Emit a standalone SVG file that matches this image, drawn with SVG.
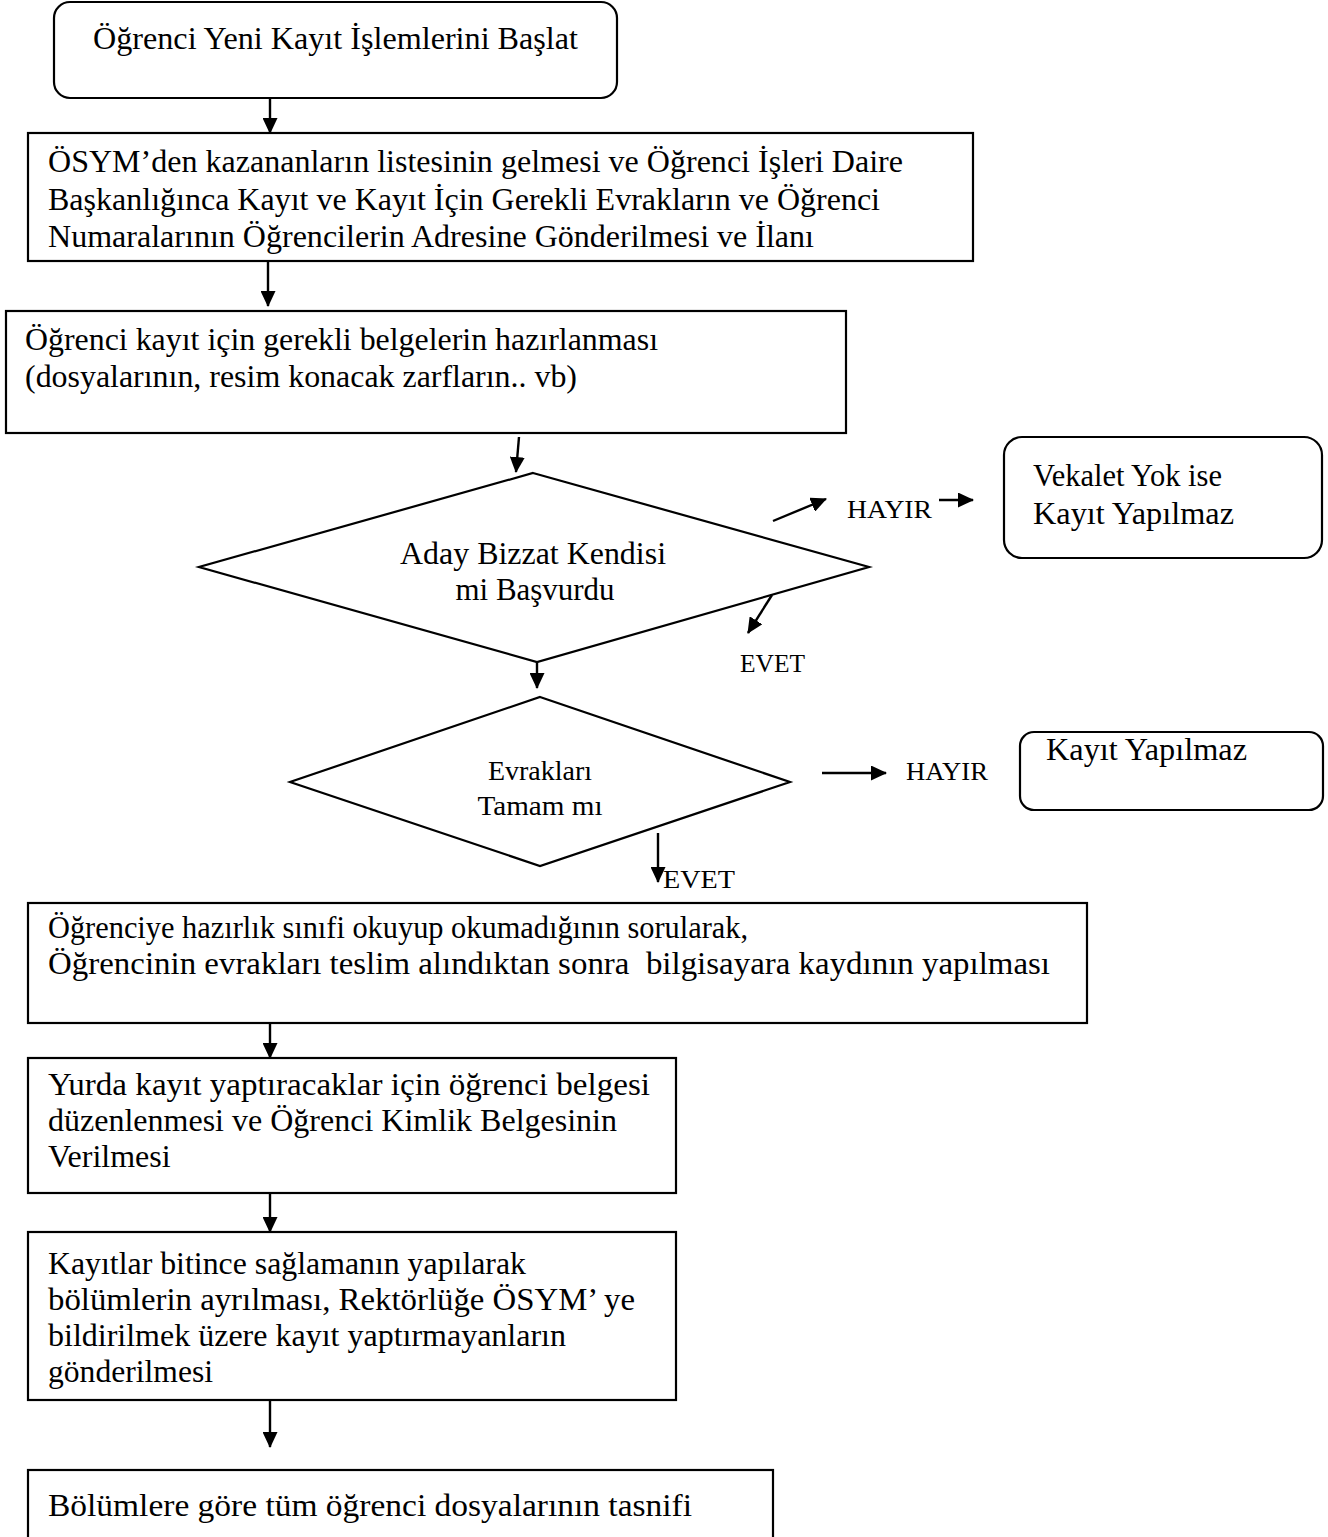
<svg xmlns="http://www.w3.org/2000/svg" width="1328" height="1537" viewBox="0 0 1328 1537">
  <style>
    .box { fill: #fff; stroke: #000; stroke-width: 2.2; }
    .t { font-family: "Liberation Serif", "Times New Roman", serif; font-size: 32px; fill: #000; }
    .lbl { font-family: "Liberation Serif", "Times New Roman", serif; font-size: 26px; fill: #000; }
    .d2 { font-family: "Liberation Serif", "Times New Roman", serif; font-size: 28px; fill: #000; }
    .c { text-anchor: middle; }
    .conn line { stroke: #000; stroke-width: 2.4; }
  </style>
  <defs>
    <marker id="ah" markerUnits="userSpaceOnUse" markerWidth="17" markerHeight="15" refX="15" refY="7.5" orient="auto">
      <path d="M0,0 L16,7.5 L0,15 Z" fill="#000"/>
    </marker>
  </defs>
  <rect width="1328" height="1537" fill="#fff"/>

  <g id="start">
    <rect class="box" x="54" y="2" width="563" height="96" rx="16"/>
    <text class="t" x="93" y="49" textLength="485" lengthAdjust="spacingAndGlyphs">Öğrenci Yeni Kayıt İşlemlerini Başlat</text>
  </g>

  <g id="list-announce">
    <rect class="box" x="28" y="133" width="945" height="128"/>
    <text class="t" x="48" y="172" textLength="855" lengthAdjust="spacingAndGlyphs">ÖSYM’den kazananların listesinin gelmesi ve Öğrenci İşleri Daire</text>
    <text class="t" x="48" y="210" textLength="832" lengthAdjust="spacingAndGlyphs">Başkanlığınca Kayıt ve Kayıt İçin Gerekli Evrakların ve Öğrenci</text>
    <text class="t" x="48" y="247" textLength="766" lengthAdjust="spacingAndGlyphs">Numaralarının Öğrencilerin Adresine Gönderilmesi ve İlanı</text>
  </g>

  <g id="prepare-docs">
    <rect class="box" x="6" y="311" width="840" height="122"/>
    <text class="t" x="25" y="350" textLength="633" lengthAdjust="spacingAndGlyphs">Öğrenci kayıt için gerekli belgelerin hazırlanması</text>
    <text class="t" x="25" y="387" textLength="552" lengthAdjust="spacingAndGlyphs">(dosyalarının, resim konacak zarfların.. vb)</text>
  </g>

  <g id="decision-self">
    <polygon class="box" points="533,473 869,567 537,662 199,567"/>
    <text class="t c" x="533" y="564" textLength="266" lengthAdjust="spacingAndGlyphs">Aday Bizzat Kendisi</text>
    <text class="t c" x="535" y="600" textLength="159" lengthAdjust="spacingAndGlyphs">mi Başvurdu</text>
  </g>

  <g id="no-proxy">
    <rect class="box" x="1004" y="437" width="318" height="121" rx="18"/>
    <text class="t" x="1033" y="486" textLength="189" lengthAdjust="spacingAndGlyphs">Vekalet Yok ise</text>
    <text class="t" x="1033" y="524" textLength="201" lengthAdjust="spacingAndGlyphs">Kayıt Yapılmaz</text>
  </g>

  <g id="decision-docs">
    <polygon class="box" points="540,697 790,782 540,866 290,782"/>
    <text class="d2 c" x="540" y="780" textLength="104" lengthAdjust="spacingAndGlyphs">Evrakları</text>
    <text class="d2 c" x="540" y="815" textLength="125" lengthAdjust="spacingAndGlyphs">Tamam mı</text>
  </g>

  <g id="rejected">
    <rect class="box" x="1020" y="732" width="303" height="78" rx="14"/>
    <text class="t" x="1046" y="760" textLength="201" lengthAdjust="spacingAndGlyphs">Kayıt Yapılmaz</text>
  </g>

  <g id="register-pc">
    <rect class="box" x="28" y="903" width="1059" height="120"/>
    <text class="t" x="48" y="938" textLength="700" lengthAdjust="spacingAndGlyphs">Öğrenciye hazırlık sınıfi okuyup okumadığının sorularak,</text>
    <text class="t" x="48" y="974" textLength="1002" lengthAdjust="spacingAndGlyphs" xml:space="preserve">Öğrencinin evrakları teslim alındıktan sonra  bilgisayara kaydının yapılması</text>
  </g>

  <g id="student-id">
    <rect class="box" x="28" y="1058" width="648" height="135"/>
    <text class="t" x="48" y="1095" textLength="602" lengthAdjust="spacingAndGlyphs">Yurda kayıt yaptıracaklar için öğrenci belgesi</text>
    <text class="t" x="48" y="1131" textLength="569" lengthAdjust="spacingAndGlyphs">düzenlenmesi ve Öğrenci Kimlik Belgesinin</text>
    <text class="t" x="48" y="1167">Verilmesi</text>
  </g>

  <g id="report">
    <rect class="box" x="28" y="1232" width="648" height="168"/>
    <text class="t" x="48" y="1274" textLength="478" lengthAdjust="spacingAndGlyphs">Kayıtlar bitince sağlamanın yapılarak</text>
    <text class="t" x="48" y="1310" textLength="587" lengthAdjust="spacingAndGlyphs">bölümlerin ayrılması, Rektörlüğe ÖSYM’ ye</text>
    <text class="t" x="48" y="1346" textLength="518" lengthAdjust="spacingAndGlyphs">bildirilmek üzere kayıt yaptırmayanların</text>
    <text class="t" x="48" y="1382" textLength="165" lengthAdjust="spacingAndGlyphs">gönderilmesi</text>
  </g>

  <g id="classify">
    <rect class="box" x="28" y="1470" width="745" height="80"/>
    <text class="t" x="48" y="1516" textLength="644" lengthAdjust="spacingAndGlyphs">Bölümlere göre tüm öğrenci dosyalarının tasnifi</text>
  </g>

  <g id="labels">
    <text class="lbl" x="847" y="518" textLength="85" lengthAdjust="spacingAndGlyphs">HAYIR</text>
    <text class="lbl" x="740" y="672" textLength="65" lengthAdjust="spacingAndGlyphs">EVET</text>
    <text class="lbl" x="906" y="780" textLength="82" lengthAdjust="spacingAndGlyphs">HAYIR</text>
    <text class="lbl" x="663" y="888" textLength="72" lengthAdjust="spacingAndGlyphs">EVET</text>
  </g>

  <g class="conn" id="connectors">
    <line x1="270" y1="98" x2="270" y2="133" marker-end="url(#ah)"/>
    <line x1="268" y1="261" x2="268" y2="306" marker-end="url(#ah)"/>
    <line x1="519" y1="437" x2="516" y2="472" marker-end="url(#ah)"/>
    <line x1="537" y1="662" x2="537" y2="688" marker-end="url(#ah)"/>
    <line x1="773" y1="521" x2="826" y2="499" marker-end="url(#ah)"/>
    <line x1="939" y1="500" x2="973" y2="500" marker-end="url(#ah)"/>
    <line x1="772" y1="595" x2="748" y2="633" marker-end="url(#ah)"/>
    <line x1="822" y1="773" x2="886" y2="773" marker-end="url(#ah)"/>
    <line x1="658" y1="833" x2="658" y2="882" marker-end="url(#ah)"/>
    <line x1="270" y1="1023" x2="270" y2="1058" marker-end="url(#ah)"/>
    <line x1="270" y1="1193" x2="270" y2="1232" marker-end="url(#ah)"/>
    <line x1="270" y1="1400" x2="270" y2="1447" marker-end="url(#ah)"/>
  </g>
</svg>
